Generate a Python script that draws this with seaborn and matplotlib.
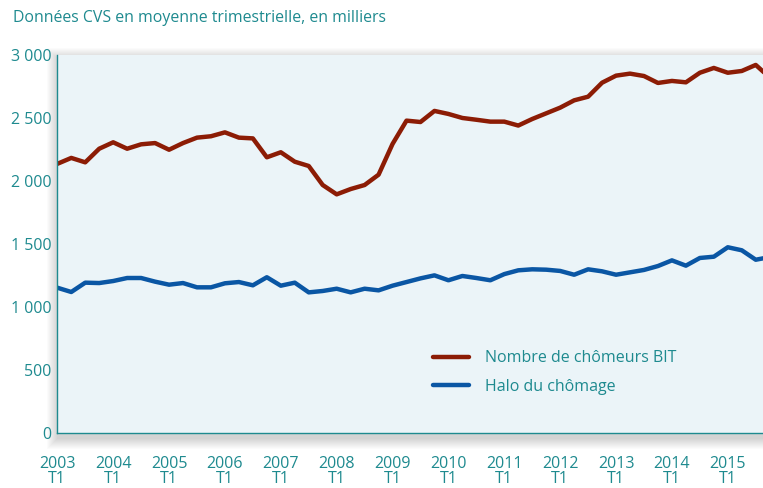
import pandas as pd
import matplotlib.pyplot as plt
import matplotlib.patches as mpatches
import seaborn as sns

# Quarterly series, 2003 T1 -> 2015 T4 (thousands, CVS)
chomeurs_bit = [2140, 2187, 2152, 2260, 2311, 2260, 2295, 2305, 2252, 2305,
                2348, 2359, 2390, 2348, 2342, 2192, 2232, 2157, 2123, 1972,
                1898, 1940, 1972, 2054, 2298, 2483, 2472, 2560, 2536, 2504,
                2490, 2475, 2475, 2444, 2496, 2541, 2586, 2644, 2673, 2784,
                2840, 2856, 2837, 2782, 2798, 2787, 2863, 2901, 2863, 2877,
                2925, 2825]
halo_chomage = [1157, 1123, 1197, 1194, 1210, 1234, 1234, 1205, 1181, 1194,
                1160, 1160, 1192, 1202, 1176, 1240, 1173, 1197, 1120, 1131,
                1149, 1120, 1149, 1136, 1173, 1202, 1231, 1255, 1216, 1250,
                1234, 1216, 1265, 1295, 1303, 1300, 1290, 1260, 1303, 1287,
                1260, 1279, 1298, 1329, 1374, 1332, 1393, 1403, 1478, 1454,
                1379, 1400]
years = list(range(2003, 2016))
tick_labels = [f"{y}\nT1" for y in years]
yticks = [0, 500, 1000, 1500, 2000, 2500, 3000]
ytick_labels = ["0", "500", "1 000", "1 500", "2 000", "2 500", "3 000"]

teal = "#1e8a8f"
red = "#8c1c05"
blue = "#0a56a4"

df = pd.DataFrame({"q": range(len(chomeurs_bit)),
                   "Nombre de chômeurs BIT": chomeurs_bit,
                   "Halo du chômage": halo_chomage})

sns.set_style("white")
plt.rcParams["font.family"] = ["Open Sans", "DejaVu Sans"]

fig = plt.figure(figsize=(7.63, 4.88), dpi=100)
ax = fig.add_axes([0.0751, 0.1117, 0.952, 0.7746])
ax.set_zorder(2)
ax.set_facecolor("#ebf4f8")

# soft drop shadow around the plot area
x0, y0 = 57 / 763, 54.5 / 488
w, h = 0.952, 0.7746
for i in range(1, 12):
    dx, dy = i / 763, i / 488
    fig.patches.append(mpatches.Rectangle(
        (x0 - dx + 1 / 763, y0 - dy - 4 / 488), w + 2 * dx, h + 2 * dy,
        transform=fig.transFigure, color="black", alpha=0.016, lw=0, zorder=0))

sns.lineplot(data=df, x="q", y="Nombre de chômeurs BIT", ax=ax, color=red,
             lw=3.2, label="Nombre de chômeurs BIT")
sns.lineplot(data=df, x="q", y="Halo du chômage", ax=ax, color=blue,
             lw=3.2, label="Halo du chômage")

ax.set_xlim(0, 52)
ax.set_ylim(0, 3000)
ax.set_xticks(range(0, 52, 4))
ax.set_xticklabels(tick_labels)
ax.set_yticks(yticks)
ax.set_yticklabels(ytick_labels)
ax.set_xlabel("")
ax.set_ylabel("")

for s in ["top", "right"]:
    ax.spines[s].set_visible(False)
for s in ["left", "bottom"]:
    ax.spines[s].set_color(teal)
    ax.spines[s].set_linewidth(1.0)

ax.tick_params(axis="x", direction="in", length=3, color=teal, labelcolor=teal,
               labelsize=11.5, pad=16)
ax.tick_params(axis="y", direction="out", length=3, color=teal, labelcolor=teal,
               labelsize=11.5, pad=1)
for lab in ax.get_xticklabels():
    lab.set_linespacing(0.9)

leg = ax.legend(loc="upper left", bbox_to_anchor=(0.508, 0.237), frameon=False,
                fontsize=11.5, handlelength=2.3, handletextpad=1.0,
                labelspacing=0.8, borderaxespad=0)
for t in leg.get_texts():
    t.set_color(teal)

fig.text(13 / 763, 1 - 18 / 488, "Données CVS en moyenne trimestrielle, en milliers",
         color=teal, fontsize=11.4, va="center", ha="left")

fig.savefig("out.png", dpi=100)
